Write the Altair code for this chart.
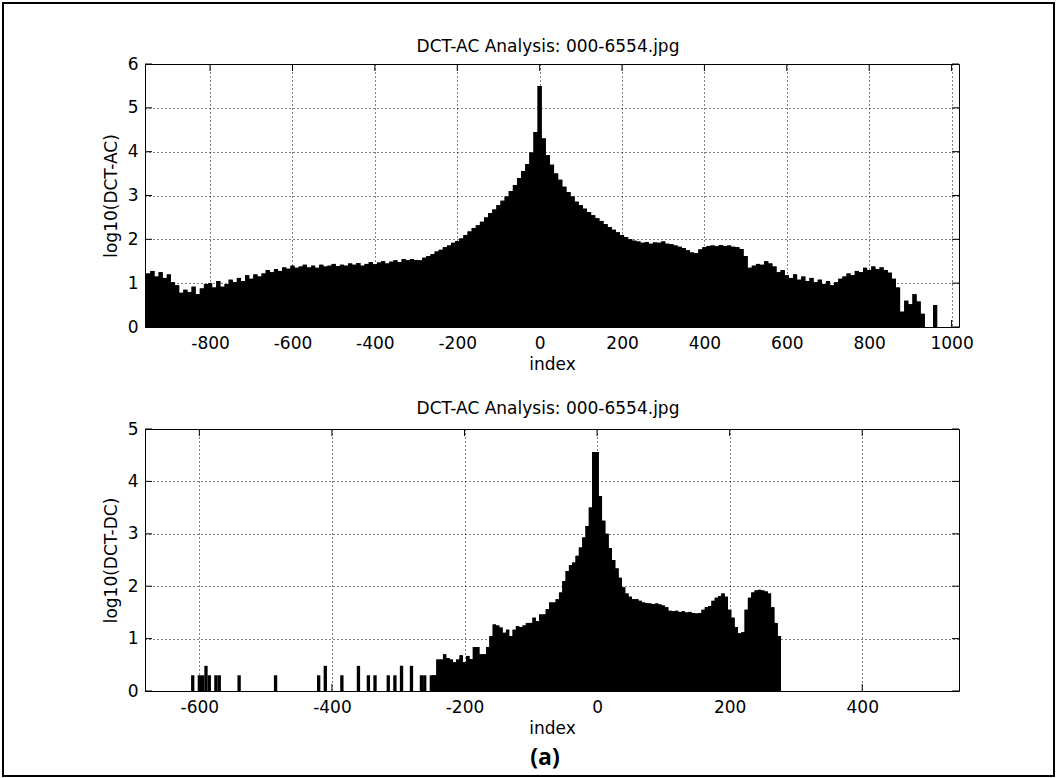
import altair as alt
import pandas as pd

# ---------------- data ----------------
TITLE = "DCT-AC Analysis: 000-6554.jpg"

# AC histogram: bin centres every 10 units from -960 to 1010
ac_index = list(range(-960, 1020, 10))
ac_log = [
    1.18, 1.22, 1.28, 1.15, 1.25, 1.12, 1.20, 1.02, 0.95, 0.78,   # -960..-870
    0.85, 0.80, 0.92, 0.75, 0.88, 0.98, 1.00, 0.90, 1.05, 0.92,   # -860..-770
    0.98, 1.08, 1.02, 1.12, 1.05, 1.18, 1.10, 1.20, 1.15, 1.22,   # -760..-670
    1.30, 1.25, 1.32, 1.28, 1.36, 1.33, 1.40, 1.35, 1.38, 1.42,   # -660..-570
    1.36, 1.40, 1.35, 1.42, 1.38, 1.40, 1.44, 1.39, 1.42, 1.40,   # -560..-470
    1.45, 1.42, 1.46, 1.40, 1.44, 1.48, 1.43, 1.47, 1.50, 1.45,   # -460..-370
    1.49, 1.52, 1.48, 1.55, 1.52, 1.55, 1.53, 1.52, 1.58, 1.62,   # -360..-270
    1.66, 1.72, 1.76, 1.82, 1.86, 1.92, 1.96, 2.02, 2.10, 2.18,   # -260..-170
    2.26, 2.32, 2.40, 2.50, 2.60, 2.68, 2.78, 2.88, 2.98, 3.10,   # -160..-70
    3.24, 3.40, 3.56, 3.72, 3.98, 4.45, 5.50, 4.30, 3.92, 3.70,   # -60..30
    3.50, 3.36, 3.20, 3.08, 2.98, 2.86, 2.78, 2.70, 2.62, 2.55,   # 40..130
    2.48, 2.42, 2.35, 2.28, 2.22, 2.16, 2.10, 2.05, 2.00, 1.97,   # 140..230
    1.95, 1.92, 1.94, 1.90, 1.93, 1.92, 1.95, 1.90, 1.89, 1.86,   # 240..330
    1.83, 1.80, 1.75, 1.70, 1.68, 1.77, 1.82, 1.85, 1.86, 1.84,   # 340..430
    1.87, 1.85, 1.86, 1.83, 1.82, 1.78, 1.62, 1.35, 1.40, 1.44,   # 440..530
    1.42, 1.50, 1.45, 1.38, 1.25, 1.30, 1.18, 1.12, 1.20, 1.08,   # 540..630
    1.15, 1.05, 1.12, 1.02, 1.08, 0.98, 1.05, 0.95, 1.02, 1.10,   # 640..730
    1.15, 1.22, 1.18, 1.28, 1.25, 1.35, 1.30, 1.38, 1.32, 1.36,   # 740..830
    1.30, 1.24, 1.10, 0.90, 0.35, 0.60, 0.52, 0.75, 0.58, 0.30,   # 840..930
    0.00, 0.00, 0.50, 0.00, 0.00, 0.00, 0.00, 0.00,               # 940..1010
]

# DC histogram: isolated small bars (bin centres, width 5)
dc_sparse_index = [-610, -600, -595, -590, -585, -575, -570, -540, -485, -420,
                   -410, -385, -360, -345, -335, -315, -305, -295, -280, -265, -260]
dc_sparse_log = [0.30, 0.30, 0.30, 0.48, 0.30, 0.30, 0.30, 0.30, 0.30, 0.30,
                 0.48, 0.30, 0.48, 0.30, 0.30, 0.30, 0.30, 0.48, 0.48, 0.30, 0.30]

# DC histogram main body: bin centres every 5 units from -250 to 275
dc_body_index = list(range(-250, 280, 5))
dc_body_log = [
    0.30, 0.30, 0.60, 0.60, 0.70, 0.63, 0.60, 0.55, 0.60, 0.68,   # -250..-205
    0.55, 0.67, 0.61, 0.84, 0.84, 0.70, 0.70, 0.84, 1.05, 1.27,   # -200..-155
    1.25, 1.21, 1.11, 1.17, 1.05, 1.17, 1.24, 1.22, 1.25, 1.30,   # -150..-105
    1.30, 1.40, 1.33, 1.46, 1.46, 1.56, 1.69, 1.69, 1.75, 1.88,   # -100..-55
    2.10, 2.29, 2.40, 2.45, 2.58, 2.74, 2.93, 3.15, 3.50, 4.56,   # -50..-5
    4.56, 3.72, 3.25, 3.00, 2.73, 2.50, 2.34, 2.16, 1.98, 1.86,   # 0..45
    1.80, 1.75, 1.75, 1.72, 1.69, 1.68, 1.67, 1.66, 1.67, 1.65,   # 50..95
    1.63, 1.60, 1.53, 1.52, 1.53, 1.51, 1.52, 1.50, 1.51, 1.49,   # 100..145
    1.48, 1.49, 1.55, 1.60, 1.62, 1.72, 1.78, 1.81, 1.86, 1.80,   # 150..195
    1.55, 1.40, 1.22, 1.10, 1.12, 1.55, 1.78, 1.88, 1.92, 1.93,   # 200..245
    1.92, 1.90, 1.86, 1.60, 1.30, 1.05,                           # 250..275
]

ac_ticks = [-800, -600, -400, -200, 0, 200, 400, 600, 800, 1000]
dc_ticks = [-600, -400, -200, 0, 200, 400]
ac_yticks = [0, 1, 2, 3, 4, 5, 6]
dc_yticks = [0, 1, 2, 3, 4, 5]

# ---------------- chart ----------------
FONT = "DejaVu Sans"
FS = 17
W = 814
H_TOP = 263
H_BOT = 262
TICK = 7

ac_df = pd.DataFrame({"index": ac_index, "value": ac_log})
dc_df = pd.DataFrame({"index": dc_sparse_index + dc_body_index,
                      "value": dc_sparse_log + dc_body_log})
dc_body_df = pd.DataFrame({"index": dc_body_index, "value": dc_body_log})
one = pd.DataFrame({"k": [0]})

LABEL_EXPR = "'' + datum.value"


def x_axis(values):
    return alt.Axis(values=values, grid=True, gridColor="#000000", gridDash=[1, 3],
                    gridWidth=1, ticks=False, domain=False, labelFontSize=FS,
                    labelFont=FONT, labelColor="#000000", labelPadding=8,
                    labelFlush=False, labelOverlap=False, labelExpr=LABEL_EXPR,
                    title="index", titleFontSize=FS, titleFont=FONT,
                    titleFontWeight="normal", titleColor="#000000", titlePadding=5)


def y_axis(values, title):
    return alt.Axis(values=values, grid=True, gridColor="#000000", gridDash=[1, 3],
                    gridWidth=1, ticks=False, domain=False, labelFontSize=FS,
                    labelFont=FONT, labelColor="#000000", labelPadding=7,
                    labelFlush=False, labelOverlap=False, labelExpr=LABEL_EXPR,
                    title=title, titleFontSize=FS, titleFont=FONT,
                    titleFontWeight="normal", titleColor="#000000", titlePadding=7)


def title_mark(y):
    return alt.Chart(one).mark_text(
        text=TITLE, font=FONT, fontSize=FS, color="black",
        align="center", baseline="alphabetic"
    ).encode(x=alt.value(W / 2 - 4), y=alt.value(y))


def inner_ticks(xticks, yticks, xs, ys, h):
    """MATLAB-style ticks pointing into the plot box on all four sides."""
    xdf = pd.DataFrame({"t": xticks})
    ydf = pd.DataFrame({"t": yticks})
    base = dict(color="black", strokeWidth=1)
    return [
        alt.Chart(xdf).mark_rule(**base).encode(
            x=alt.X("t:Q", scale=xs), y=alt.value(h), y2=alt.value(h - TICK)),
        alt.Chart(xdf).mark_rule(**base).encode(
            x=alt.X("t:Q", scale=xs), y=alt.value(0), y2=alt.value(TICK)),
        alt.Chart(ydf).mark_rule(**base).encode(
            y=alt.Y("t:Q", scale=ys), x=alt.value(0), x2=alt.value(TICK)),
        alt.Chart(ydf).mark_rule(**base).encode(
            y=alt.Y("t:Q", scale=ys), x=alt.value(W), x2=alt.value(W - TICK)),
    ]


ac_x = alt.Scale(domain=[-958, 1018], nice=False, zero=False)
ac_y = alt.Scale(domain=[0, 6], nice=False)

ac_bars = alt.Chart(ac_df).transform_calculate(
    x0="datum.index - 5", x1="datum.index + 5"
).mark_rect(color="black", clip=True).encode(
    x=alt.X("x0:Q", scale=ac_x, axis=x_axis(ac_ticks)),
    x2="x1:Q",
    y=alt.Y("value:Q", scale=ac_y, axis=y_axis(ac_yticks, "log10(DCT-AC)")),
    y2=alt.datum(0),
)
# seamless fill over the contiguous bins
ac_fill = alt.Chart(ac_df).mark_area(interpolate="step", color="black", clip=True).encode(
    x=alt.X("index:Q", scale=ac_x),
    y=alt.Y("value:Q", scale=ac_y),
)

border = alt.Chart(one).mark_rect(fill="transparent", stroke="black", strokeWidth=2).encode(
    x=alt.value(-142), x2=alt.value(909), y=alt.value(-61), y2=alt.value(712)
)

top = alt.layer(
    border, ac_bars, ac_fill,
    *inner_ticks(ac_ticks, ac_yticks, ac_x, ac_y, H_TOP),
    title_mark(-12),
).properties(width=W, height=H_TOP)

dc_x = alt.Scale(domain=[-682, 546], nice=False, zero=False)
dc_y = alt.Scale(domain=[0, 5], nice=False)

dc_bars = alt.Chart(dc_df).transform_calculate(
    x0="datum.index - 2.5", x1="datum.index + 2.5"
).mark_rect(color="black", clip=True).encode(
    x=alt.X("x0:Q", scale=dc_x, axis=x_axis(dc_ticks)),
    x2="x1:Q",
    y=alt.Y("value:Q", scale=dc_y, axis=y_axis(dc_yticks, "log10(DCT-DC)")),
    y2=alt.datum(0),
)
dc_fill = alt.Chart(dc_body_df).mark_area(interpolate="step", color="black", clip=True).encode(
    x=alt.X("index:Q", scale=dc_x),
    y=alt.Y("value:Q", scale=dc_y),
)

caption = alt.Chart(one).mark_text(
    text="(a)", font="Open Sans", fontSize=23, fontWeight="bold", color="black",
    align="center", baseline="middle"
).encode(x=alt.value(400), y=alt.value(329))

bottom = alt.layer(
    dc_bars, dc_fill,
    *inner_ticks(dc_ticks, dc_yticks, dc_x, dc_y, H_BOT),
    title_mark(-15), caption,
).properties(width=W, height=H_BOT)

chart = alt.vconcat(top, bottom, spacing=102, bounds="flush").properties(
    padding={"left": 1, "top": 1, "right": 0, "bottom": 0},
    background="white",
).configure_view(stroke="black", strokeWidth=1)

chart.save("out.html", embed_options={"renderer": "svg", "actions": False})
